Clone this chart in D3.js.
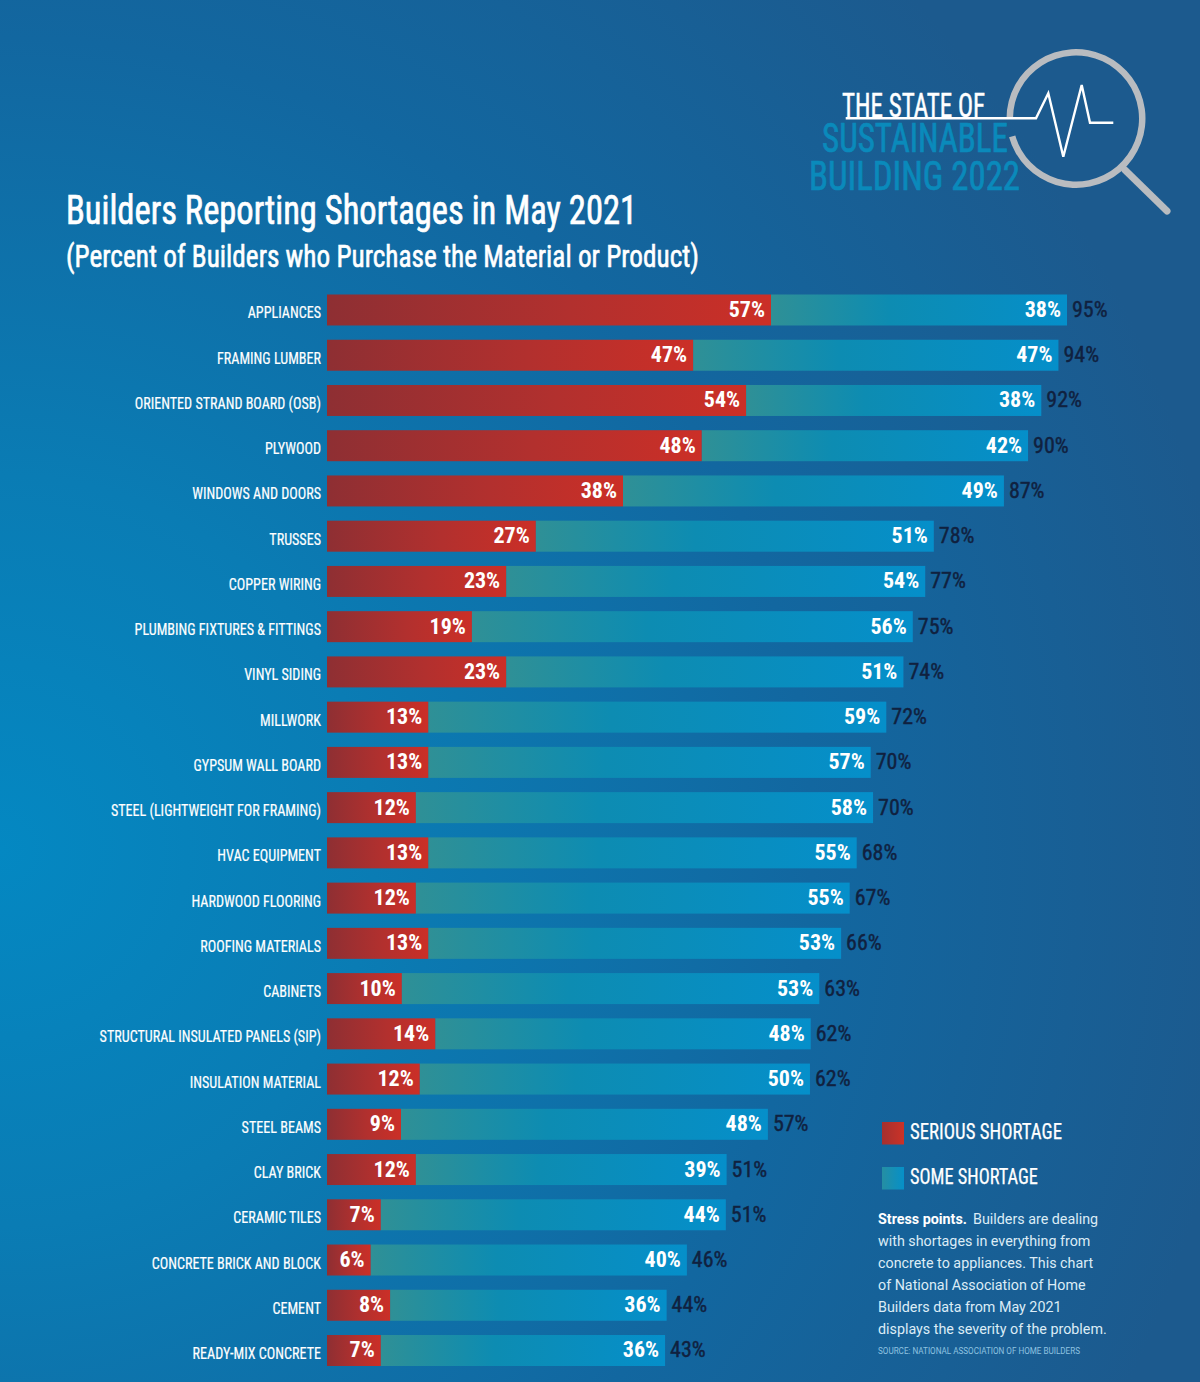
<!DOCTYPE html>
<html lang="en">
<head>
<meta charset="UTF-8">
<title>Builders Reporting Shortages in May 2021</title>
<script src="https://d3js.org/d3.v7.min.js"></script>
<style>
  body { margin: 0; background: #14649c; }
  svg { display: block; }
  .narrow { font-family: "Liberation Sans Narrow", "Roboto Condensed", "Liberation Sans", sans-serif; }
  .body-text { font-family: Roboto, sans-serif; }
</style>
</head>
<body>
<svg id="chart" width="1200" height="1382"></svg>
<script>
// categories, top to bottom
const categories = [
  "APPLIANCES", "FRAMING LUMBER", "ORIENTED STRAND BOARD (OSB)", "PLYWOOD",
  "WINDOWS AND DOORS", "TRUSSES", "COPPER WIRING", "PLUMBING FIXTURES & FITTINGS",
  "VINYL SIDING", "MILLWORK", "GYPSUM WALL BOARD", "STEEL (LIGHTWEIGHT FOR FRAMING)",
  "HVAC EQUIPMENT", "HARDWOOD FLOORING", "ROOFING MATERIALS", "CABINETS",
  "STRUCTURAL INSULATED PANELS (SIP)", "INSULATION MATERIAL", "STEEL BEAMS", "CLAY BRICK",
  "CERAMIC TILES", "CONCRETE BRICK AND BLOCK", "CEMENT", "READY-MIX CONCRETE"
];
// printed percentages
const seriousLabels = [57, 47, 54, 48, 38, 27, 23, 19, 23, 13, 13, 12, 13, 12, 13, 10, 14, 12, 9, 12, 7, 6, 8, 7];
const someLabels = [38, 47, 38, 42, 49, 51, 54, 56, 51, 59, 57, 58, 55, 55, 53, 53, 48, 50, 48, 39, 44, 40, 36, 36];
const totalLabels = [95, 94, 92, 90, 87, 78, 77, 75, 74, 72, 70, 70, 68, 67, 66, 63, 62, 62, 57, 51, 51, 46, 44, 43];
// bar lengths as drawn (slightly off the rounded numbers in places)
const seriousBars = [57, 47, 53.8, 48.1, 38, 26.8, 23, 18.6, 23, 13, 13, 11.4, 13, 11.4, 13, 9.6, 13.9, 11.9, 9.5, 11.4, 6.9, 5.6, 8.1, 6.9];
const totalBars = [95, 93.9, 91.7, 90, 86.9, 77.9, 76.8, 75.2, 74, 71.8, 69.8, 70.1, 68, 67.1, 66, 63.2, 62.1, 62, 56.6, 51.3, 51.2, 46.2, 43.6, 43.4];

const legendNames = ["SERIOUS SHORTAGE", "SOME SHORTAGE"];
const noteLines = [
  "Builders are dealing",
  "with shortages in everything from",
  "concrete to appliances. This chart",
  "of National Association of Home",
  "Builders data from May 2021",
  "displays the severity of the problem."
];

const svg = d3.select("#chart");
const defs = svg.append("defs");

function gradient(id, stops) {
  const g = defs.append("linearGradient").attr("id", id);
  stops.forEach(s => g.append("stop").attr("offset", s[0]).attr("stop-color", s[1]));
}
gradient("serious", [[0, "#8e2f33"], [0.55, "#b2302e"], [1, "#cb2f27"]]);
gradient("some", [[0, "#2f9096"], [0.4, "#0d8cb2"], [1, "#058fca"]]);
gradient("seriousKey", [[0, "#a5302f"], [1, "#cb3227"]]);
gradient("someKey", [[0, "#258fa3"], [1, "#0690c8"]]);

const bgGrad = defs.append("radialGradient").attr("id", "bg")
  .attr("gradientUnits", "userSpaceOnUse")
  .attr("cx", 0).attr("cy", 850).attr("r", 1250);
[[0, "#0488c2"], [0.3, "#0a7cb4"], [0.65, "#1267a0"], [1, "#1c5a8e"]]
  .forEach(s => bgGrad.append("stop").attr("offset", s[0]).attr("stop-color", s[1]));

svg.append("rect").attr("width", 1200).attr("height", 1382).attr("fill", "url(#bg)");

// bars
const x = d3.scaleLinear().domain([0, 95]).range([327, 1067]);
const y = d3.scaleBand().domain(categories).range([294.5, 1366]).paddingInner(0.315);

const rows = svg.append("g").selectAll("g").data(categories).join("g")
  .attr("transform", d => `translate(0,${y(d)})`);

rows.append("rect")
  .attr("x", (d, i) => x(seriousBars[i]))
  .attr("width", (d, i) => x(totalBars[i]) - x(seriousBars[i]))
  .attr("height", y.bandwidth())
  .attr("fill", "url(#some)");

rows.append("rect")
  .attr("x", x(0))
  .attr("width", (d, i) => x(seriousBars[i]) - x(0))
  .attr("height", y.bandwidth())
  .attr("fill", "url(#serious)");

const mid = y.bandwidth() / 2;
function rowLabel(getX, getText, anchor, weight, fill) {
  return rows.append("text").attr("class", "narrow")
    .attr("x", getX).attr("y", mid + 7)
    .attr("text-anchor", anchor)
    .attr("font-size", 22).attr("font-weight", weight).attr("fill", fill)
    .text(getText);
}
rowLabel((d, i) => x(seriousBars[i]) - 6, (d, i) => seriousLabels[i] + "%", "end", "bold", "#fff");
rowLabel((d, i) => x(totalBars[i]) - 6, (d, i) => someLabels[i] + "%", "end", "bold", "#fff");
rowLabel((d, i) => x(totalBars[i]) + 5, (d, i) => totalLabels[i] + "%", "start", "normal", "#10213f")
  .attr("stroke", "#10213f").attr("stroke-width", 0.4);

// category labels, squeezed sideways since the font is a bit wide
const labelSqueeze = 0.83;
const yAxis = svg.append("g").attr("transform", "translate(327,0)")
  .call(d3.axisLeft(y).tickSize(0).tickPadding(6));
yAxis.select(".domain").remove();
yAxis.attr("font-family", null);
yAxis.selectAll("text").attr("class", "narrow")
  .attr("font-size", 17).attr("fill", "#fff").attr("dy", "0.5em")
  .attr("stroke", "#fff").attr("stroke-width", 0.2)
  .attr("x", -6 / labelSqueeze)
  .attr("transform", `scale(${labelSqueeze},1)`);

// headline
function fitted(sel, width) {
  return sel.attr("textLength", width).attr("lengthAdjust", "spacingAndGlyphs");
}
fitted(svg.append("text").attr("class", "narrow").attr("x", 66).attr("y", 224)
  .attr("font-size", 41).attr("fill", "#fff").attr("stroke", "#fff").attr("stroke-width", 0.7)
  .text("Builders Reporting Shortages in May 2021"), 571);
fitted(svg.append("text").attr("class", "narrow").attr("x", 66).attr("y", 267)
  .attr("font-size", 32).attr("fill", "#fff").attr("stroke", "#fff").attr("stroke-width", 0.6)
  .text("(Percent of Builders who Purchase the Material or Product)"), 633);

// logo
const logo = svg.append("g");
fitted(logo.append("text").attr("class", "narrow").attr("x", 842).attr("y", 117)
  .attr("font-size", 34).attr("fill", "#fff").attr("stroke", "#fff").attr("stroke-width", 0.5)
  .text("THE STATE OF"), 143);
fitted(logo.append("text").attr("class", "narrow").attr("x", 822).attr("y", 152)
  .attr("font-size", 40).attr("fill", "#0a8abb").attr("stroke", "#0a8abb").attr("stroke-width", 0.7)
  .text("SUSTAINABLE"), 186);
fitted(logo.append("text").attr("class", "narrow").attr("x", 809).attr("y", 190)
  .attr("font-size", 41).attr("fill", "#0a8abb").attr("stroke", "#0a8abb").attr("stroke-width", 0.7)
  .text("BUILDING 2022"), 211);

logo.append("path")
  .attr("d", d3.arc().innerRadius(63).outerRadius(69.5).startAngle(-1.57).endAngle(4.44)())
  .attr("transform", "translate(1076,118.5)")
  .attr("fill", "#b9bcc0");
logo.append("line").attr("x1", 1125).attr("y1", 170).attr("x2", 1167).attr("y2", 211)
  .attr("stroke", "#b9bcc0").attr("stroke-width", 7).attr("stroke-linecap", "round");
logo.append("polyline")
  .attr("points", "845.7,118.3 1036,118.3 1048.3,93.3 1063.3,156.7 1081.7,85 1090,122.7 1113.3,122.7")
  .attr("fill", "none").attr("stroke", "#fff").attr("stroke-width", 2.4);

// legend
const keyY = d3.scalePoint().domain(legendNames).range([1122, 1167]);
const keyWidths = [152, 128];
const keys = svg.append("g").selectAll("g").data(legendNames).join("g")
  .attr("transform", d => `translate(882,${keyY(d)})`);
keys.append("rect").attr("width", 22).attr("height", 22.5)
  .attr("fill", (d, i) => i ? "url(#someKey)" : "url(#seriousKey)");
keys.append("text").attr("class", "narrow").attr("x", 28).attr("y", 17)
  .attr("font-size", 22).attr("fill", "#fff").attr("stroke", "#fff").attr("stroke-width", 0.25)
  .attr("lengthAdjust", "spacingAndGlyphs")
  .attr("textLength", (d, i) => keyWidths[i])
  .text(d => d);

// note
const note = svg.append("g").attr("class", "body-text").attr("font-size", 14.3).attr("fill", "#dcecf6");
note.selectAll("text").data(noteLines).join("text")
  .attr("x", (d, i) => i ? 878 : 973).attr("y", (d, i) => 1224 + i * 22).text(d => d);
note.append("text").attr("x", 878).attr("y", 1224).attr("font-weight", 700).attr("fill", "#fff").text("Stress points.");
fitted(note.append("text").attr("x", 878).attr("y", 1354).attr("font-size", 8.6).attr("fill", "#8fc3e0")
  .text("SOURCE: NATIONAL ASSOCIATION OF HOME BUILDERS"), 202);
</script>
</body>
</html>
